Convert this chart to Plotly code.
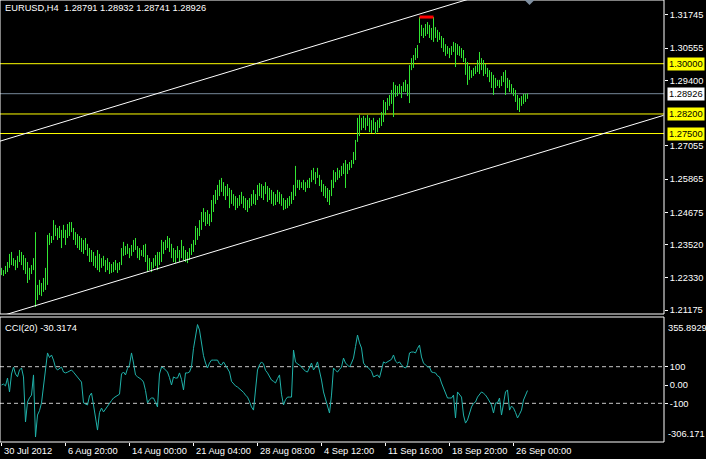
import plotly.graph_objects as go

# ---------------- data ----------------
symbol_title = "EURUSD,H4  1.28791 1.28932 1.28741 1.28926"

highs = [
    1.2269, 1.2261, 1.2276, 1.2290, 1.2319, 1.2326, 1.2304, 1.2297, 1.2312, 1.2333,
    1.2326, 1.2315, 1.2304, 1.2290, 1.2269, 1.2279, 1.2304, 1.2397, 1.2208, 1.2226,
    1.2215, 1.2233, 1.2269, 1.2387, 1.2394, 1.2383, 1.2440, 1.2423, 1.2412, 1.2419,
    1.2405, 1.2423, 1.2405, 1.2426, 1.2433, 1.2433, 1.2412, 1.2397, 1.2390, 1.2383,
    1.2376, 1.2369, 1.2376, 1.2355, 1.2340, 1.2333, 1.2326, 1.2312, 1.2333, 1.2319,
    1.2304, 1.2312, 1.2297, 1.2304, 1.2290, 1.2283, 1.2290, 1.2297, 1.2286, 1.2290,
    1.2340, 1.2362, 1.2347, 1.2355, 1.2340, 1.2351, 1.2369, 1.2376, 1.2347, 1.2340,
    1.2333, 1.2351, 1.2355, 1.2315, 1.2304, 1.2290, 1.2304, 1.2315, 1.2326, 1.2326,
    1.2369, 1.2362, 1.2369, 1.2383, 1.2376, 1.2355, 1.2340, 1.2333, 1.2347, 1.2333,
    1.2369, 1.2347, 1.2333, 1.2326, 1.2340, 1.2355, 1.2369, 1.2419, 1.2412, 1.2440,
    1.2469, 1.2483, 1.2469, 1.2476, 1.2462, 1.2512, 1.2530, 1.2548, 1.2566, 1.2584,
    1.2591, 1.2576, 1.2562, 1.2569, 1.2555, 1.2548, 1.2533, 1.2526, 1.2519, 1.2530,
    1.2541, 1.2526, 1.2519, 1.2512, 1.2519, 1.2533, 1.2548, 1.2533, 1.2566, 1.2573,
    1.2569, 1.2562, 1.2576, 1.2562, 1.2555, 1.2548, 1.2541, 1.2533, 1.2548, 1.2541,
    1.2533, 1.2519, 1.2512, 1.2519, 1.2526, 1.2541, 1.2566, 1.2634, 1.2584, 1.2584,
    1.2576, 1.2584, 1.2576, 1.2584, 1.2591, 1.2619, 1.2627, 1.2612, 1.2627, 1.2602,
    1.2584, 1.2569, 1.2562, 1.2555, 1.2548, 1.2584, 1.2619, 1.2612, 1.2627, 1.2619,
    1.2634, 1.2644, 1.2655, 1.2641, 1.2648, 1.2655, 1.2684, 1.2727, 1.2806, 1.2816,
    1.2806, 1.2813, 1.2806, 1.2816, 1.2806, 1.2798, 1.2806, 1.2791, 1.2798, 1.2806,
    1.2827, 1.2870, 1.2863, 1.2877, 1.2888, 1.2906, 1.2934, 1.2924, 1.2920, 1.2927,
    1.2920, 1.2934, 1.2942, 1.2927, 1.2995, 1.3020, 1.3031, 1.3056, 1.3067, 1.3167,
    1.3139, 1.3128, 1.3142, 1.3149, 1.3139, 1.3128, 1.3167, 1.3131, 1.3121, 1.3113,
    1.3099, 1.3092, 1.3070, 1.3063, 1.3056, 1.3063, 1.3078, 1.3074, 1.3070, 1.3063,
    1.3056, 1.3049, 1.3020, 1.3006, 1.2992, 1.2977, 1.2985, 1.2992, 1.3013, 1.3042,
    1.3020, 1.3013, 1.2999, 1.2985, 1.2977, 1.2970, 1.2960, 1.2949, 1.2942, 1.2942,
    1.2956, 1.2970, 1.2977, 1.2949, 1.2942, 1.2927, 1.2913, 1.2906, 1.2888, 1.2877,
    1.2884, 1.2892, 1.2892, 1.28932,
]

lows = [
    1.2243, 1.2240, 1.2247, 1.2254, 1.2269, 1.2279, 1.2276, 1.2261, 1.2269, 1.2290,
    1.2279, 1.2261, 1.2247, 1.2215, 1.2226, 1.2247, 1.2261, 1.2129, 1.2154, 1.2172,
    1.2168, 1.2183, 1.2190, 1.2208, 1.2351, 1.2358, 1.2369, 1.2383, 1.2369, 1.2376,
    1.2340, 1.2376, 1.2351, 1.2376, 1.2383, 1.2397, 1.2369, 1.2351, 1.2340, 1.2333,
    1.2326, 1.2319, 1.2333, 1.2312, 1.2290, 1.2290, 1.2276, 1.2269, 1.2261, 1.2254,
    1.2269, 1.2276, 1.2254, 1.2261, 1.2247, 1.2251, 1.2254, 1.2261, 1.2251, 1.2261,
    1.2279, 1.2312, 1.2315, 1.2319, 1.2304, 1.2312, 1.2326, 1.2333, 1.2304, 1.2297,
    1.2312, 1.2308, 1.2290, 1.2254, 1.2261, 1.2254, 1.2269, 1.2276, 1.2261, 1.2279,
    1.2290, 1.2319, 1.2333, 1.2340, 1.2326, 1.2304, 1.2290, 1.2286, 1.2304, 1.2290,
    1.2304, 1.2297, 1.2290, 1.2286, 1.2297, 1.2315, 1.2326, 1.2351, 1.2369, 1.2383,
    1.2405, 1.2433, 1.2419, 1.2426, 1.2419, 1.2433, 1.2469, 1.2498, 1.2512, 1.2526,
    1.2541, 1.2526, 1.2512, 1.2526, 1.2483, 1.2498, 1.2491, 1.2476, 1.2483, 1.2491,
    1.2498, 1.2483, 1.2476, 1.2469, 1.2483, 1.2491, 1.2498, 1.2494, 1.2512, 1.2526,
    1.2519, 1.2512, 1.2533, 1.2505, 1.2512, 1.2498, 1.2491, 1.2494, 1.2505, 1.2498,
    1.2491, 1.2476, 1.2480, 1.2483, 1.2491, 1.2498, 1.2512, 1.2526, 1.2555, 1.2548,
    1.2555, 1.2548, 1.2541, 1.2555, 1.2555, 1.2576, 1.2584, 1.2569, 1.2591, 1.2562,
    1.2541, 1.2526, 1.2519, 1.2505, 1.2494, 1.2526, 1.2555, 1.2576, 1.2584, 1.2591,
    1.2598, 1.2605, 1.2555, 1.2605, 1.2619, 1.2627, 1.2641, 1.2655, 1.2720, 1.2741,
    1.2762, 1.2770, 1.2762, 1.2777, 1.2755, 1.2752, 1.2762, 1.2748, 1.2755, 1.2770,
    1.2777, 1.2791, 1.2816, 1.2834, 1.2849, 1.2856, 1.2809, 1.2881, 1.2884, 1.2892,
    1.2877, 1.2899, 1.2899, 1.2884, 1.2859, 1.2977, 1.2985, 1.3013, 1.3020, 1.3074,
    1.3099, 1.3092, 1.3099, 1.3106, 1.3092, 1.3085, 1.3078, 1.3092, 1.3078, 1.3085,
    1.3056, 1.3042, 1.3028, 1.3035, 1.3020, 1.3031, 1.3042, 1.2988, 1.3031, 1.3028,
    1.3020, 1.3006, 1.2960, 1.2924, 1.2942, 1.2949, 1.2956, 1.2963, 1.2970, 1.2963,
    1.2977, 1.2956, 1.2963, 1.2952, 1.2934, 1.2913, 1.2888, 1.2913, 1.2920, 1.2913,
    1.2920, 1.2934, 1.2888, 1.2913, 1.2899, 1.2892, 1.2884, 1.2863, 1.2834, 1.2827,
    1.2849, 1.2856, 1.2863, 1.28741,
]

cci = [
    0, 5, -5, 38, -38, 60, 98, 60, 45, 82,
    93, 44, -202, -93, -70, -55, 55, -284, -164, -140,
    -98, -11, 100, 175, 150, 164, 136, 95, 82, 90,
    98, 71, 66, 70, 76, 82, 70, 55, 44, 30,
    16, -98, -104, -109, -60, -44, -109, -180, -246, -150,
    -126, -147, -130, -120, -100, -85, -71, -65, -55, -50,
    60, 71, 55, 90, 109, 175, 120, 55, 45, 38,
    30, 16, -30, -98, -80, -71, -71, -95, -120, 60,
    98, 93, 80, 71, 40, 0, 44, 38, 38, 66,
    30, -27, 66, 66, 71, 100, 200, 270, 330, 300,
    235, 160, 120, 93, 120, 136, 136, 136, 136, 115,
    109, 126, 110, 90, 71, 20, 5, -5, -11, -20,
    -27, -40, -55, -66, -90, -120, -137, -40, 82, 110,
    126, 115, 80, 66, 45, 27, 20, 11, 35, 55,
    -50, -109, -80, -66, -66, -66, 191, 126, 115, 109,
    98, 85, 75, 71, 100, 120, 82, 100, 126, 80,
    27, -38, -80, -109, -153, -55, 93, 80, 71, 85,
    98, 147, 120, 109, 98, 120, 147, 210, 273, 230,
    202, 120, 105, 98, 85, 75, 44, 50, 55, 40,
    82, 126, 120, 126, 130, 140, 164, 130, 120, 126,
    110, 98, 93, 110, 175, 180, 180, 175, 200, 218,
    153, 120, 109, 100, 98, 71, 68, 66, 50, 44,
    11, -15, -44, -71, -71, -71, -55, -180, -38, -50,
    -66, -164, -208, -191, -150, -120, -100, -93, -66, -50,
    -38, -45, -55, -71, -90, -109, -153, -98, -98, -71,
    -164, -98, -38, -27, -137, -115, -126, -150, -180, -160,
    -137, -82, -55, -30.3174,
]

time_label_bars = [0, 32, 64, 96, 128, 160, 192, 224, 256]
time_labels = ["30 Jul 2012", "6 Aug 20:00", "14 Aug 00:00", "21 Aug 04:00",
               "28 Aug 08:00", "4 Sep 12:00", "11 Sep 16:00", "18 Sep 20:00",
               "26 Sep 00:00"]

price_ticks = [1.31745, 1.30555, 1.29400, 1.27055, 1.25865, 1.24675,
               1.23520, 1.22330, 1.21175]
level_lines = [1.30000, 1.28200, 1.27500]
bid_price = 1.28926

cci_levels = [100, -100]
cci_ticks = [100, 0, -100]
cci_tick_text = ["100", "0.00", "-100"]
cci_max = 355.8929
cci_min = -306.171
cci_label = "CCI(20) -30.3174"

upper_tl_bars = [-1, 240]
upper_tl_prices = [1.2722, 1.3245]
lower_tl_bars = [0, 331]
lower_tl_prices = [1.2097, 1.2815]
top_marker_bars = [209, 216]
top_marker_prices = [1.3167, 1.3167]
shift_bar = 264

# ---------------- styles ----------------
FONT = "Liberation Sans"
FS = 9.3
BAR_COLOR = "#32e632"
CCI_COLOR = "#20B2AA"
YELLOW = "#FFFF00"
BID_COLOR = "#778899"
WHITE = "#FFFFFF"

MAIN_DOMAIN = [128 / 442, 1.0]
CCI_DOMAIN = [0.0, 125 / 442]
PRICE_RANGE = [1.21039, 1.3228]
CCI_RANGE = [-311.2, 371.3]
X_RANGE = [-0.75, 331.25]

# ---------------- traces ----------------
bx, by = [], []
for i, (h, l) in enumerate(zip(highs, lows)):
    bx += [i, i, None]
    by += [l, h, None]

fig = go.Figure()
fig.add_trace(go.Scatter(x=bx, y=by, mode="lines", xaxis="x", yaxis="y",
                         line=dict(color=BAR_COLOR, width=1), hoverinfo="skip"))
fig.add_trace(go.Scatter(x=upper_tl_bars, y=upper_tl_prices, mode="lines",
                         xaxis="x", yaxis="y", line=dict(color=WHITE, width=1)))
fig.add_trace(go.Scatter(x=lower_tl_bars, y=lower_tl_prices, mode="lines",
                         xaxis="x", yaxis="y", line=dict(color=WHITE, width=1)))
fig.add_trace(go.Scatter(x=top_marker_bars, y=top_marker_prices, mode="lines",
                         xaxis="x", yaxis="y", line=dict(color="#FF0000", width=3)))
fig.add_trace(go.Scatter(x=list(range(len(cci))), y=cci, mode="lines",
                         xaxis="x", yaxis="y2",
                         line=dict(color=CCI_COLOR, width=1)))

shapes = []
for lv in level_lines:
    shapes.append(dict(type="line", xref="paper", x0=0, x1=1, yref="y", y0=lv, y1=lv,
                       line=dict(color=YELLOW, width=1), layer="below"))
shapes.append(dict(type="line", xref="paper", x0=0, x1=1, yref="y", y0=bid_price,
                   y1=bid_price, line=dict(color=BID_COLOR, width=1), layer="below"))
for lv in cci_levels:
    shapes.append(dict(type="line", xref="paper", x0=0, x1=1, yref="y2", y0=lv, y1=lv,
                       line=dict(color="#C8C8C8", width=1, dash="4px,3px"), layer="below"))
# panel frames
shapes.append(dict(type="rect", xref="paper", yref="paper", x0=0, x1=1,
                   y0=MAIN_DOMAIN[0], y1=MAIN_DOMAIN[1],
                   line=dict(color=WHITE, width=1)))
shapes.append(dict(type="rect", xref="paper", yref="paper", x0=0, x1=1,
                   y0=CCI_DOMAIN[0], y1=CCI_DOMAIN[1],
                   line=dict(color=WHITE, width=1)))
# chart shift marker
shapes.append(dict(type="path", xref="x", yref="paper",
                   path=f"M {shift_bar - 2.5} 1 L {shift_bar + 2.5} 1 L {shift_bar} 0.9887 Z",
                   fillcolor="#7F8FA0", line=dict(width=0)))

annotations = [
    dict(text=symbol_title, xref="paper", yref="paper", x=0, y=1, xanchor="left",
         yanchor="top", xshift=3, yshift=-1, showarrow=False,
         font=dict(family=FONT, size=FS, color=WHITE)),
    dict(text=cci_label, xref="paper", yref="paper", x=0, y=CCI_DOMAIN[1],
         xanchor="left", yanchor="top", xshift=3, yshift=-4, showarrow=False,
         font=dict(family=FONT, size=FS, color=WHITE)),
    dict(text=f"{cci_max:.4f}", xref="paper", yref="y2", x=1, y=cci_max,
         xanchor="left", yanchor="top", xshift=2, yshift=-1, showarrow=False,
         font=dict(family=FONT, size=FS, color=WHITE)),
    dict(text=f"{cci_min:.3f}", xref="paper", yref="y2", x=1, y=cci_min,
         xanchor="left", yanchor="bottom", xshift=2, showarrow=False,
         font=dict(family=FONT, size=FS, color=WHITE)),
]
for lv in level_lines:
    annotations.append(dict(text=f"{lv:.5f}", xref="paper", yref="y", x=1, y=lv,
                            xanchor="left", yanchor="middle", xshift=3,
                            showarrow=False, bgcolor=YELLOW, borderpad=1,
                            font=dict(family=FONT, size=FS, color="#000000")))
annotations.append(dict(text=f"{bid_price:.5f}", xref="paper", yref="y", x=1,
                        y=bid_price, xanchor="left", yanchor="middle", xshift=3,
                        showarrow=False, bgcolor=WHITE, borderpad=1,
                        font=dict(family=FONT, size=FS, color="#000000")))
for b, t in zip(time_label_bars, time_labels):
    annotations.append(dict(text=t, xref="x", yref="paper", x=b, y=0,
                            xanchor="left", yanchor="top", yshift=-2,
                            showarrow=False,
                            font=dict(family=FONT, size=FS, color=WHITE)))

fig.update_layout(
    width=706, height=459,
    margin=dict(l=0, r=42, t=0, b=17),
    paper_bgcolor="#000000", plot_bgcolor="#000000",
    showlegend=False, hovermode=False,
    font=dict(family=FONT, size=FS, color=WHITE),
    xaxis=dict(range=X_RANGE, domain=[0, 1], anchor="y2", showgrid=False,
               zeroline=False, showline=False, showticklabels=False,
               ticks="outside", ticklen=3, tickcolor=WHITE, tickwidth=1,
               tickvals=time_label_bars, automargin=False, fixedrange=True),
    yaxis=dict(domain=MAIN_DOMAIN, range=PRICE_RANGE, side="right", anchor="x",
               showgrid=False, zeroline=False, showline=False,
               ticks="outside", ticklen=3, tickcolor=WHITE, tickwidth=1,
               tickvals=price_ticks, ticktext=[f"{v:.5f}" for v in price_ticks],
               tickfont=dict(family=FONT, size=FS, color=WHITE), automargin=False),
    yaxis2=dict(domain=CCI_DOMAIN, range=CCI_RANGE, side="right", anchor="x",
                showgrid=False, zeroline=False, showline=False,
                ticks="outside", ticklen=3, tickcolor=WHITE, tickwidth=1,
                tickvals=cci_ticks, ticktext=cci_tick_text,
                tickfont=dict(family=FONT, size=FS, color=WHITE), automargin=False),
    shapes=shapes,
    annotations=annotations,
)

fig.write_html(
    "out.html",
    config={"displayModeBar": False},
    post_script="document.body.style.margin='0';document.body.style.overflow='hidden';",
)
